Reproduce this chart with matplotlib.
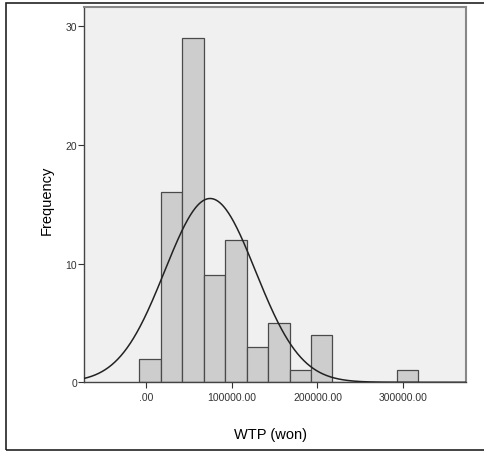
import numpy as np
import matplotlib
matplotlib.use("Agg")
import matplotlib.pyplot as plt
from matplotlib.patches import Rectangle

# Data
bin_edges = [-7500, 17500, 42500, 67500, 92500, 117500, 142500, 167500,
             192500, 217500, 242500, 267500, 292500, 317500]
counts = [2, 16, 29, 9, 12, 3, 5, 1, 4, 0, 0, 0, 1]
n_total = 82
mean_wtp = 75000
sd_wtp = 52800
x_ticks = [0, 100000, 200000, 300000]
x_ticklabels = [".00", "100000.00", "200000.00", "300000.00"]
y_ticks = [0, 10, 20, 30]

plt.rcParams['font.family'] = ['Liberation Sans', 'DejaVu Sans']

fig = plt.figure(figsize=(4.85, 4.52), dpi=100)
W, H = 485, 452
ax = fig.add_axes([84 / W, 1 - 383.3 / H, (465.7 - 84) / W, (383.3 - 8.3) / H])
ax.set_facecolor('#f0f0f0')

widths = np.diff(bin_edges)
ax.bar(bin_edges[:-1], counts, width=widths, align='edge',
       color='#cdcdcd', edgecolor='#4a4a4a', linewidth=0.9, zorder=2)

x_min, x_max = -71850, 372650
xs = np.linspace(x_min, x_max, 600)
bw = widths[0]
ys = n_total * bw / (sd_wtp * np.sqrt(2 * np.pi)) * np.exp(-0.5 * ((xs - mean_wtp) / sd_wtp) ** 2)
ax.plot(xs, ys, color='#222222', linewidth=1.1, zorder=3)

ax.set_xlim(x_min, x_max)
ax.set_ylim(0, 31.6)
ax.set_xticks(x_ticks)
ax.set_xticklabels(x_ticklabels)
ax.set_yticks(y_ticks)
ax.tick_params(axis='both', labelsize=7.5, colors='#333333', length=4, width=0.8)
ax.tick_params(axis='x', pad=3)
ax.tick_params(axis='y', pad=1)

for side in ['top', 'right']:
    ax.spines[side].set_color('#888888')
    ax.spines[side].set_linewidth(1.5)
for side in ['left', 'bottom']:
    ax.spines[side].set_color('#444444')
    ax.spines[side].set_linewidth(1.0)

fig.text(47 / W, 1 - 200 / H, "Frequency", rotation=90, ha='center', va='center', fontsize=10.5)
fig.text(270 / W, 1 - 435 / H, "WTP (won)", ha='center', va='center', fontsize=10.5)

# outer border (right edge lies outside the image)
border = Rectangle((6 / W, 1 - 451 / H), (W + 20 - 6) / W, (451 - 4) / H,
                   transform=fig.transFigure, fill=False, edgecolor='#222222',
                   linewidth=1.2, clip_on=False)
fig.patches.append(border)

fig.savefig("out.png", dpi=100)
